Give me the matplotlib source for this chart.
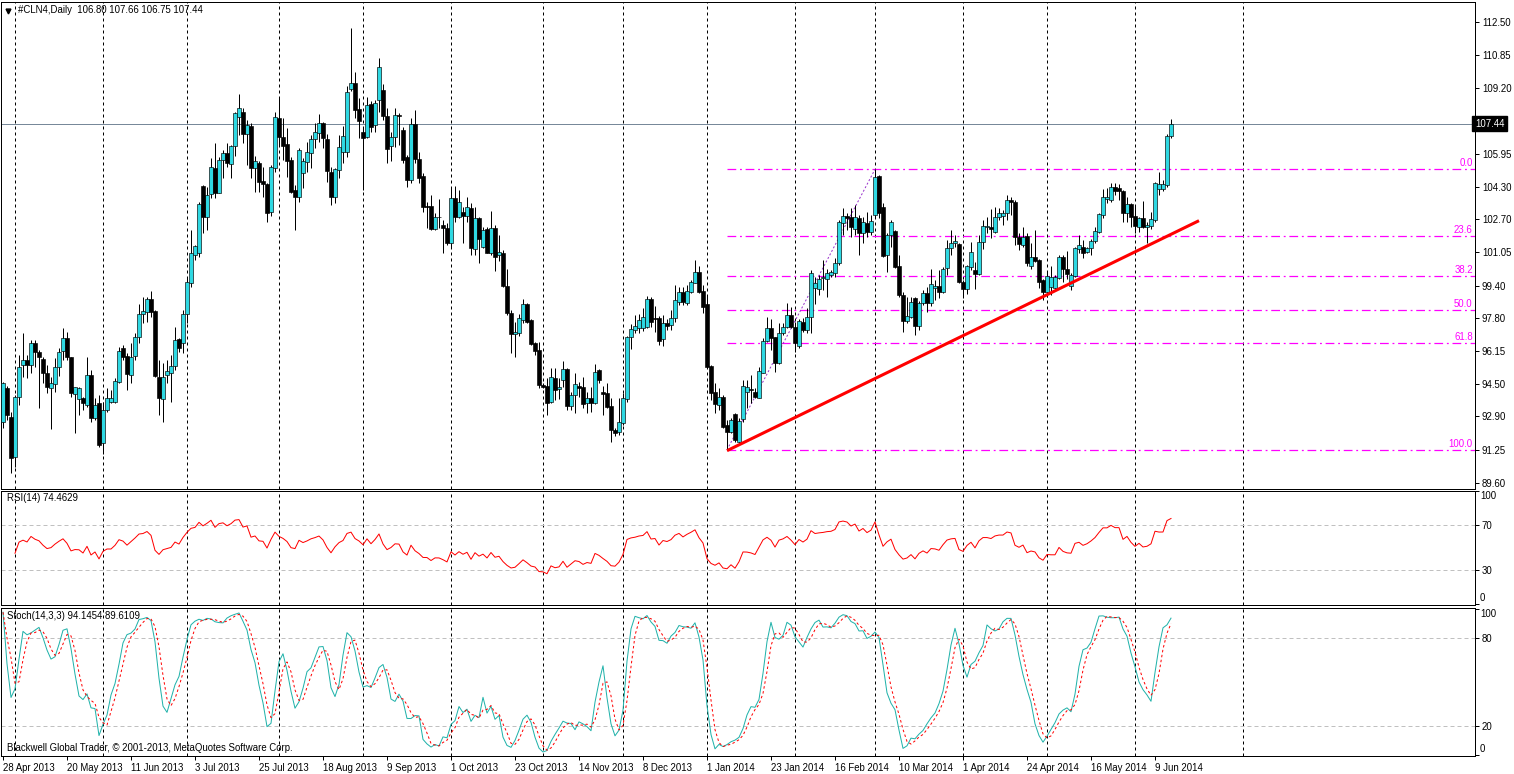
import numpy as np
import matplotlib
matplotlib.use('Agg')
import matplotlib.pyplot as plt
from matplotlib.transforms import blended_transform_factory as btf

# ---------------- data ----------------
symbol_title = "#CLN4,Daily  106.80 107.66 106.75 107.44"
rsi_title = "RSI(14) 74.4629"
stoch_title = "Stoch(14,3,3) 94.1454 89.6109"
footer = "Blackwell Global Trader, \u00a9 2001-2013, MetaQuotes Software Corp."

opens = [92.64, 94.30, 92.89, 90.87, 93.88, 95.45, 95.70, 95.45, 96.53, 96.12,
         95.74, 95.04, 94.30, 94.50, 95.37, 96.17, 96.78, 95.84, 94.02, 93.75,
         93.83, 93.47, 94.96, 92.81, 93.55, 91.60, 93.22, 93.63, 93.63, 94.63,
         96.28, 95.90, 94.96, 95.90, 96.83, 97.99, 98.08, 98.73, 98.14, 94.88,
         93.75, 94.96, 95.04, 95.41, 96.73, 96.53, 97.97, 99.51, 100.92, 101.03,
         104.35, 102.79, 103.95, 105.22, 104.01, 105.64, 105.96, 105.42, 106.33, 107.79,
         108.04, 106.93, 107.32, 105.25, 105.47, 104.60, 104.44, 103.07, 105.22, 107.71,
         106.76, 106.43, 105.64, 104.14, 103.81, 105.00, 105.55, 106.00, 106.66, 106.96,
         107.45, 106.66, 105.05, 103.78, 105.14, 106.05, 106.05, 109.14, 109.44, 108.15,
         107.01, 106.76, 108.42, 107.37, 108.62, 109.11, 107.82, 106.35, 106.79, 107.87,
         107.13, 105.80, 104.64, 107.41, 105.67, 104.84, 103.35, 103.37, 102.20, 102.82,
         102.41, 102.28, 101.53, 103.73, 102.82, 103.03, 102.85, 103.23, 101.20, 102.74,
         101.30, 102.20, 101.00, 102.24, 100.92, 101.00, 99.38, 98.02, 96.99, 97.06,
         97.69, 98.49, 97.69, 96.56, 96.20, 94.46, 94.41, 93.63, 94.79, 94.25,
         94.71, 95.24, 93.42, 93.97, 94.41, 94.35, 93.55, 93.80, 93.59, 95.21,
         94.13, 94.08, 93.42, 92.23, 92.15, 92.59, 93.75, 96.83, 97.20, 97.28,
         97.28, 97.33, 98.73, 97.77, 97.77, 96.73, 97.53, 97.44, 97.77, 98.60,
         99.07, 98.55, 99.10, 99.54, 100.09, 99.15, 98.49, 95.41, 94.13, 93.47,
         93.88, 92.48, 92.15, 93.00, 91.65, 92.76, 94.13, 94.25, 94.13, 93.83,
         95.08, 96.66, 97.28, 96.83, 95.54, 97.06, 97.33, 97.94, 97.33, 96.40,
         97.61, 97.20, 97.86, 99.26, 99.21, 99.77, 99.71, 99.93, 100.04, 100.50,
         102.49, 102.85, 102.82, 102.20, 102.74, 101.99, 102.52, 102.08, 102.90, 104.84,
         103.32, 100.92, 101.91, 102.12, 100.37, 98.93, 97.66, 97.82, 98.77, 97.40,
         98.52, 99.05, 98.52, 99.26, 99.38, 99.10, 100.26, 101.25, 101.53, 101.46,
         99.59, 99.21, 100.34, 100.17, 99.97, 101.55, 102.33, 102.33, 102.04, 102.79,
         102.87, 102.99, 103.65, 103.57, 101.79, 101.41, 101.86, 100.37, 100.80, 100.67,
         99.68, 99.10, 99.31, 99.26, 99.77, 100.84, 100.21, 99.38, 99.87, 101.20,
         101.33, 101.08, 101.25, 101.63, 102.08, 102.90, 103.68, 103.65, 104.28, 104.26,
         104.11, 102.99, 103.45, 102.85, 102.33, 102.74, 102.29, 102.36, 102.65, 104.18,
         104.18, 104.39, 106.80]
highs = [94.63, 94.40, 93.14, 93.97, 95.95, 97.03, 95.95, 96.70, 96.70, 96.20,
         95.87, 95.45, 94.88, 95.80, 96.28, 97.28, 97.10, 95.87, 94.38, 94.38,
         93.88, 95.87, 95.21, 93.80, 93.97, 93.63, 94.30, 94.20, 94.80, 96.37,
         96.45, 96.04, 96.53, 97.03, 98.49, 98.85, 98.85, 99.13, 98.20, 95.70,
         95.54, 95.70, 95.95, 97.36, 96.78, 98.20, 99.76, 102.16, 101.42, 103.57,
         104.40, 104.30, 105.72, 106.46, 105.80, 106.13, 106.46, 106.38, 108.04, 108.90,
         108.20, 107.62, 107.45, 105.83, 105.58, 105.30, 104.47, 105.38, 108.04, 108.75,
         107.71, 107.21, 105.80, 104.40, 106.21, 105.72, 106.55, 106.88, 107.45, 107.90,
         107.54, 106.91, 105.30, 105.22, 106.88, 107.32, 109.31, 112.17, 110.02, 108.70,
         107.29, 108.78, 108.58, 108.62, 110.68, 109.41, 108.20, 107.04, 108.20, 107.95,
         107.29, 105.88, 107.70, 108.12, 106.05, 104.97, 103.57, 103.90, 102.99, 103.68,
         102.65, 102.49, 104.26, 104.35, 104.14, 103.32, 103.81, 103.48, 103.28, 102.82,
         102.33, 102.33, 103.12, 102.41, 101.90, 101.16, 100.21, 98.19, 97.61, 97.99,
         98.72, 98.52, 97.73, 96.61, 96.61, 94.55, 94.79, 95.29, 95.29, 94.79,
         95.67, 95.29, 94.13, 95.04, 94.63, 94.88, 94.13, 94.38, 95.50, 95.24,
         94.41, 94.58, 93.80, 92.31, 93.80, 94.08, 96.90, 97.49, 97.94, 97.99,
         98.27, 98.88, 98.85, 98.39, 97.89, 97.94, 97.72, 98.19, 99.43, 99.31,
         99.31, 99.43, 99.68, 100.67, 100.37, 99.43, 98.93, 95.45, 94.55, 94.30,
         93.97, 92.72, 92.81, 93.06, 92.81, 94.71, 94.71, 94.96, 94.30, 95.37,
         96.78, 97.82, 97.72, 96.86, 97.56, 97.56, 98.52, 98.35, 97.61, 97.72,
         97.77, 98.27, 100.17, 99.84, 99.93, 100.67, 100.21, 100.17, 100.75, 102.65,
         103.23, 102.99, 103.23, 103.40, 102.90, 102.82, 103.07, 102.90, 105.17, 104.89,
         103.51, 101.99, 102.65, 102.16, 100.92, 99.10, 98.85, 98.85, 98.85, 98.65,
         99.18, 99.35, 100.21, 99.68, 100.17, 100.34, 101.66, 102.16, 101.91, 101.50,
         99.68, 100.42, 101.58, 100.58, 101.91, 102.65, 102.82, 103.18, 103.32, 103.23,
         103.15, 103.90, 103.82, 103.65, 101.99, 102.33, 101.99, 101.50, 102.16, 100.70,
         99.71, 100.09, 100.37, 99.93, 100.92, 100.92, 101.13, 100.01, 101.33, 101.91,
         101.66, 101.33, 101.70, 102.33, 102.99, 104.18, 104.23, 104.47, 104.47, 104.44,
         104.14, 103.82, 103.48, 103.35, 102.82, 103.60, 102.57, 103.07, 104.56, 105.06,
         104.64, 106.93, 107.66]
lows = [92.35, 92.70, 90.08, 90.40, 93.47, 94.88, 94.80, 95.05, 95.37, 93.30,
        94.55, 94.05, 92.30, 94.13, 94.91, 95.70, 95.70, 93.88, 92.10, 92.97,
        93.22, 93.39, 92.64, 92.72, 91.40, 91.04, 93.14, 93.55, 93.55, 94.58,
        95.70, 94.22, 94.55, 95.70, 96.53, 97.53, 97.61, 97.86, 94.88, 92.97,
        92.64, 94.55, 93.63, 95.21, 96.12, 96.04, 97.56, 99.35, 100.67, 100.84,
        101.99, 102.16, 103.73, 103.73, 103.98, 104.73, 105.30, 104.73, 105.83, 106.88,
        106.46, 105.38, 104.73, 104.02, 104.02, 103.80, 102.57, 102.85, 105.06, 106.38,
        105.64, 104.81, 103.98, 102.16, 103.57, 104.23, 105.06, 105.25, 106.21, 106.55,
        106.21, 104.56, 103.40, 103.48, 104.72, 105.47, 105.80, 109.08, 107.70, 106.71,
        104.14, 106.71, 107.04, 107.04, 108.04, 107.62, 105.50, 105.58, 106.30, 106.38,
        105.47, 104.31, 104.51, 105.47, 104.47, 103.07, 102.24, 102.16, 102.16, 102.24,
        101.00, 101.41, 101.33, 102.57, 102.74, 101.53, 102.57, 100.92, 100.92, 100.54,
        101.25, 101.00, 100.92, 100.14, 100.64, 99.35, 97.94, 96.07, 95.87, 96.90,
        97.56, 97.56, 96.45, 95.95, 94.30, 94.30, 92.97, 93.55, 93.72, 93.75,
        94.35, 93.22, 93.22, 93.06, 93.88, 93.30, 93.09, 93.14, 93.52, 94.55,
        92.97, 93.30, 91.65, 91.93, 91.98, 92.48, 93.63, 96.23, 97.03, 97.06,
        97.16, 97.28, 97.33, 97.11, 96.45, 96.40, 97.20, 97.20, 97.61, 98.44,
        98.44, 98.44, 99.01, 99.51, 99.01, 98.05, 95.29, 93.72, 93.06, 93.22,
        92.31, 91.24, 92.06, 91.65, 91.57, 92.64, 93.30, 93.55, 93.80, 93.80,
        95.04, 96.61, 96.20, 95.13, 95.50, 96.94, 97.28, 97.28, 96.12, 96.28,
        97.11, 97.06, 97.03, 98.49, 98.93, 99.18, 98.85, 99.84, 99.84, 100.42,
        101.91, 102.16, 101.83, 101.91, 100.92, 101.50, 101.83, 101.91, 102.82, 102.74,
        100.83, 100.09, 101.33, 100.26, 98.85, 97.11, 97.56, 97.77, 96.94, 97.20,
        98.44, 98.11, 98.39, 98.68, 98.77, 99.01, 99.93, 100.92, 101.33, 99.54,
        98.77, 99.00, 100.17, 99.21, 99.93, 101.20, 101.99, 101.74, 101.99, 102.65,
        102.41, 102.65, 102.90, 101.41, 101.16, 101.30, 100.37, 100.20, 100.59, 99.26,
        98.68, 98.85, 98.93, 99.21, 99.71, 99.59, 99.71, 99.18, 99.84, 101.00,
        100.75, 101.00, 100.92, 101.50, 101.99, 102.74, 103.48, 103.57, 103.90, 103.65,
        102.57, 102.57, 102.33, 102.03, 102.08, 102.24, 101.53, 102.20, 102.57, 103.90,
        104.11, 104.28, 106.75]
closes = [94.58, 92.97, 90.82, 93.88, 95.37, 95.70, 95.45, 96.53, 96.10, 95.84,
          95.04, 94.35, 94.55, 95.37, 96.12, 96.78, 95.84, 94.05, 94.35, 94.30,
          93.55, 94.96, 92.81, 93.47, 91.48, 93.22, 93.80, 93.80, 94.68, 96.17,
          95.87, 95.00, 95.87, 96.83, 97.99, 98.14, 98.73, 98.08, 94.91, 93.80,
          94.88, 95.16, 95.42, 96.70, 96.28, 97.99, 99.56, 101.00, 101.34, 103.45,
          102.82, 103.90, 105.30, 104.01, 105.64, 105.99, 105.47, 106.33, 107.95, 108.20,
          106.93, 107.37, 105.22, 105.58, 104.56, 104.46, 102.98, 105.30, 107.76, 106.79,
          106.33, 105.60, 104.06, 103.81, 106.13, 105.58, 106.05, 106.66, 107.01, 107.45,
          106.71, 105.10, 103.78, 105.17, 106.26, 106.83, 109.00, 109.44, 108.12, 107.59,
          106.74, 108.37, 107.26, 108.45, 110.24, 107.82, 106.18, 106.79, 107.87, 107.80,
          105.64, 104.64, 107.41, 105.67, 104.72, 103.32, 103.28, 102.20, 102.82, 102.80,
          102.24, 101.53, 103.73, 102.79, 103.57, 102.85, 103.28, 101.25, 102.74, 101.71,
          102.16, 101.03, 102.24, 100.84, 101.05, 99.38, 98.02, 96.98, 97.11, 97.77,
          98.49, 97.61, 96.50, 96.17, 94.46, 94.35, 93.59, 94.84, 94.22, 94.35,
          95.24, 93.42, 93.97, 94.51, 94.30, 93.52, 93.80, 93.59, 95.13, 94.71,
          94.02, 93.35, 92.23, 92.10, 92.64, 93.80, 96.83, 97.23, 97.40, 97.69,
          97.82, 98.73, 97.61, 97.72, 96.66, 97.56, 97.40, 97.77, 98.68, 99.07,
          98.60, 99.13, 99.56, 100.09, 99.10, 98.35, 95.34, 94.05, 93.52, 93.88,
          92.39, 92.15, 92.72, 91.73, 92.69, 94.41, 94.38, 94.20, 93.88, 95.16,
          96.66, 97.28, 96.78, 95.54, 97.06, 97.36, 97.94, 97.33, 96.53, 97.64,
          97.20, 97.82, 100.00, 99.54, 99.71, 99.82, 100.01, 100.09, 100.50, 102.57,
          102.85, 102.74, 102.29, 102.79, 101.99, 102.57, 102.08, 102.60, 104.80, 102.98,
          100.87, 101.91, 102.57, 100.34, 98.93, 97.66, 97.89, 98.57, 97.40, 98.52,
          99.05, 98.52, 99.46, 99.38, 99.10, 100.21, 101.25, 101.53, 101.63, 99.59,
          99.21, 100.37, 101.05, 99.97, 101.55, 102.36, 102.36, 102.20, 102.79, 102.99,
          102.99, 103.65, 103.53, 101.79, 101.46, 101.83, 100.54, 100.80, 100.64, 99.59,
          99.10, 99.87, 99.82, 99.82, 100.80, 100.21, 99.98, 99.93, 101.25, 101.41,
          101.03, 101.25, 101.63, 102.12, 102.95, 103.82, 103.82, 104.31, 104.11, 104.11,
          103.02, 103.45, 102.82, 102.36, 102.74, 102.33, 102.41, 102.69, 104.51, 104.43,
          104.44, 106.83, 107.44]

date_labels = ["28 Apr 2013", "20 May 2013", "11 Jun 2013", "3 Jul 2013", "25 Jul 2013",
               "18 Aug 2013", "9 Sep 2013", "1 Oct 2013", "23 Oct 2013", "14 Nov 2013",
               "8 Dec 2013", "1 Jan 2014", "23 Jan 2014", "16 Feb 2014", "10 Mar 2014",
               "1 Apr 2014", "24 Apr 2014", "16 May 2014", "9 Jun 2014"]
label_step = 16
month_start_bars = [3, 25, 46, 69, 90, 112, 135, 155, 176, 198, 218, 240, 261, 283, 310]
price_ticks = [112.50, 110.85, 109.20, 105.95, 104.30, 102.70, 101.05, 99.40,
               97.80, 96.15, 94.50, 92.90, 91.25, 89.60]
last_price = 107.44

fib_start_bar, fib_low = 181, 91.24
fib_high_bar, fib_high = 218, 105.17
fib_levels = [0.0, 23.6, 38.2, 50.0, 61.8, 100.0]
trend_bars = [181, 299]
trend_prices = [91.20, 102.62]

rsi_period = 14
stoch_k, stoch_d, stoch_slow = 14, 3, 3
rsi_levels = [30, 70]
stoch_levels = [20, 80]
indicator_first_bar = 3

# ---------------- indicators ----------------
o = np.array(opens); h = np.array(highs); l = np.array(lows); c = np.array(closes)
n = len(c)
idx = np.arange(n)


def rsi(close, period):
    out = np.full(len(close), np.nan)
    d = np.diff(close)
    g = np.where(d > 0, d, 0.0)
    lo = np.where(d < 0, -d, 0.0)
    ag = al = 0.0
    for i in range(1, len(close)):
        if i <= period:
            ag = g[:i].mean()
            al = lo[:i].mean()
        else:
            ag = (ag * (period - 1) + g[i - 1]) / period
            al = (al * (period - 1) + lo[i - 1]) / period
        out[i] = 50.0 if ag + al == 0 else 100.0 * ag / (ag + al)
    return out


def stoch(hi, lo, close, k, slow, dper):
    m = len(close)
    num = np.zeros(m); den = np.zeros(m)
    for i in range(m):
        a = max(0, i - k + 1)
        ll = lo[a:i + 1].min(); hh = hi[a:i + 1].max()
        num[i] = close[i] - ll; den[i] = hh - ll
    K = np.zeros(m)
    for i in range(m):
        a = max(0, i - slow + 1)
        s = den[a:i + 1].sum()
        K[i] = 100.0 * num[a:i + 1].sum() / s if s > 0 else 50.0
    D = np.array([K[max(0, i - dper + 1):i + 1].mean() for i in range(m)])
    return K, D


rsi_vals = rsi(c, rsi_period)
k_vals, d_vals = stoch(h, l, c, stoch_k, stoch_slow, stoch_d)
s0 = indicator_first_bar

# ---------------- figure ----------------
plt.rcParams['font.family'] = ['Liberation Sans', 'DejaVu Sans']
W, H = 1514, 774
fig = plt.figure(figsize=(W / 100, H / 100), dpi=100)
fig.patch.set_facecolor('white')


def rect(x0, y0, x1, y1):
    return [x0 / W, 1 - y1 / H, (x1 - x0) / W, (y1 - y0) / H]


ax = fig.add_axes(rect(1, 2, 1475, 489))
ax_r = fig.add_axes(rect(1, 491, 1475, 605))
ax_s = fig.add_axes(rect(1, 608, 1475, 756))
PX = 0.72
FS = 6.9
for a in (ax, ax_r, ax_s):
    a.set_xlim(-0.5, 368)
    for sp in a.spines.values():
        sp.set_linewidth(PX)
        sp.set_color('black')
    for mb in month_start_bars:
        a.axvline(mb, color='black', lw=PX, ls=(0, (3, 3)), zorder=1)
    a.set_facecolor('white')

ax.set_ylim(89.297, 113.478)
ax_r.set_ylim(-0.9, 100.0)
ax_s.set_ylim(-0.7, 100.7)

# candles
bull_col = '#2ED8E2'
ax.vlines(idx, l, h, color='black', lw=PX, zorder=3)
up = c >= o
ax.bar(idx[up], (c - o)[up], bottom=o[up], width=0.82, color=bull_col,
       edgecolor='black', linewidth=0.45, zorder=4)
ax.bar(idx[~up], (c - o)[~up], bottom=o[~up], width=0.82, color='black',
       edgecolor='black', linewidth=0.45, zorder=4)

# current price line
ax.axhline(last_price, color='#778899', lw=PX, zorder=2)

# fibonacci
rng = fib_high - fib_low
blend = btf(ax.transAxes, ax.transData)
for lv in fib_levels:
    p = fib_high - lv / 100.0 * rng
    ax.plot([fib_start_bar, 368], [p, p], color='#FF00FF', lw=0.9,
            ls=(0, (7, 3, 1.5, 3)), zorder=2)
    ax.text(0.9985, p + 0.05, f"{lv:.1f}", transform=blend, ha='right', va='bottom',
            color='#FF00FF', fontsize=FS, zorder=5)
ax.plot([fib_start_bar, fib_high_bar], [fib_low, fib_high], color='#9932CC', lw=PX,
        ls=(0, (2, 2)), zorder=2)

# trend line
ax.plot(trend_bars, trend_prices, color='#FF0000', lw=2.2, zorder=5, solid_capstyle='butt')

# price axis
ax.set_xticks([])
ax.yaxis.tick_right()
ax.set_yticks(price_ticks)
ax.set_yticklabels([f"{p:.2f}" for p in price_ticks])
ax.tick_params(axis='y', direction='out', length=3, width=PX, pad=2, labelsize=FS)
ax.text(1.0, last_price, f"{last_price:.2f}", transform=blend, ha='left', va='center',
        color='white', fontsize=FS, clip_on=False, zorder=10,
        bbox=dict(boxstyle='square,pad=0.3', fc='black', ec='black'))

# RSI
ax_r.plot(idx[s0:], rsi_vals[s0:], color='#FF0000', lw=PX, zorder=3)
for lv in rsi_levels:
    ax_r.axhline(lv, color='#C0C0C0', lw=PX, ls=(0, (4, 3)), zorder=2)
ax_r.set_xticks([])
ax_r.yaxis.tick_right()
ax_r.set_yticks([100, 70, 30, 0])
ax_r.set_yticklabels(['', '70', '30', ''])
ax_r.tick_params(axis='y', direction='out', length=3, width=PX, pad=2, labelsize=FS)

# Stochastic
ax_s.plot(idx, k_vals, color='#20B2AA', lw=PX, zorder=3)
ax_s.plot(idx, d_vals, color='#FF0000', lw=PX, ls=(0, (2.5, 2.5)), zorder=3)
for lv in stoch_levels:
    ax_s.axhline(lv, color='#C0C0C0', lw=PX, ls=(0, (4, 3)), zorder=2)
ax_s.yaxis.tick_right()
ax_s.set_yticks([100, 80, 20, 0])
ax_s.set_yticklabels(['', '80', '20', ''])
ax_s.tick_params(axis='y', direction='out', length=3, width=PX, pad=2, labelsize=FS)
label_bars = [i * label_step for i in range(len(date_labels))]
ax_s.set_xticks(label_bars)
ax_s.set_xticklabels(date_labels, ha='left')
ax_s.tick_params(axis='x', direction='out', length=3, width=PX, pad=2, labelsize=FS)


def ftext(x, y, s, **kw):
    fig.text(x / W, 1 - y / H, s, va='center', fontsize=FS, **kw)


ftext(1480, 496, '100')
ftext(1480, 598, '0')
ftext(1480, 614, '100')
ftext(1480, 749, '0')
ftext(18, 10, symbol_title)
ftext(7, 498, rsi_title)
ftext(7, 616, stoch_title)
ftext(7, 748, footer)
ax.plot([0.0048], [0.9815], marker='v', color='black', markersize=3.5,
        transform=ax.transAxes, clip_on=False)

fig.savefig('out.png', dpi=100, facecolor='white')
